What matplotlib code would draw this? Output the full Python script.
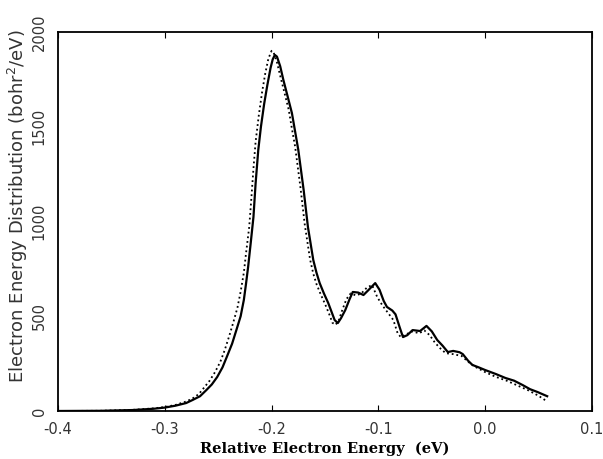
import numpy as np
import matplotlib
matplotlib.use("Agg")
import matplotlib.pyplot as plt

# solid curve
solid_e = [-0.40, -0.36, -0.33, -0.31, -0.30, -0.29, -0.28, -0.274, -0.267,
           -0.261, -0.256, -0.251, -0.246, -0.242, -0.237, -0.233, -0.229,
           -0.226, -0.224, -0.222, -0.2195, -0.217, -0.215, -0.2125, -0.210,
           -0.207, -0.204, -0.201, -0.199, -0.197, -0.195, -0.192, -0.189,
           -0.185, -0.181, -0.178, -0.175, -0.170, -0.166, -0.161, -0.158,
           -0.155, -0.151, -0.147, -0.144, -0.141, -0.138, -0.135, -0.131,
           -0.127, -0.124, -0.119, -0.114, -0.109, -0.103, -0.099, -0.095,
           -0.092, -0.087, -0.084, -0.080, -0.077, -0.073, -0.068, -0.061,
           -0.055, -0.050, -0.045, -0.040, -0.035, -0.030, -0.024, -0.021,
           -0.016, -0.012, -0.006, 0.000, 0.010, 0.019, 0.027, 0.035, 0.042,
           0.049, 0.058]
solid_d = [0, 1, 5, 12, 18, 28, 42, 58, 78,
           111, 140, 179, 230, 285, 355, 427, 500,
           586, 670, 760, 890, 1024, 1200, 1377, 1500,
           1620, 1720, 1810, 1855, 1879, 1870, 1820, 1747,
           1660, 1572, 1475, 1377, 1166, 971, 797, 730,
           675, 620, 570, 525, 480, 464, 490, 533,
           590, 628, 625, 612, 640, 675, 640, 580,
           549, 530, 510, 440, 390, 400, 427, 422,
           449, 420, 375, 345, 311, 317, 310, 300,
           265, 243, 230, 216, 195, 174, 160, 137, 115,
           100, 78]

# dotted curve
dot_e = [-0.40, -0.36, -0.33, -0.31, -0.30, -0.29, -0.28, -0.274, -0.268,
         -0.263, -0.258, -0.253, -0.248, -0.244, -0.240, -0.236, -0.232,
         -0.229, -0.226, -0.224, -0.221, -0.219, -0.217, -0.215, -0.212,
         -0.209, -0.206, -0.203, -0.200, -0.198, -0.195, -0.192, -0.188,
         -0.184, -0.181, -0.178, -0.173, -0.169, -0.164, -0.161, -0.158,
         -0.154, -0.150, -0.146, -0.143, -0.140, -0.137, -0.134, -0.130,
         -0.126, -0.121, -0.116, -0.111, -0.106, -0.101, -0.096, -0.090,
         -0.086, -0.082, -0.079, -0.074, -0.068, -0.062, -0.057, -0.052,
         -0.047, -0.042, -0.037, -0.030, -0.022, -0.016, -0.010, 0.000,
         0.010, 0.020, 0.030, 0.040, 0.050, 0.058]
dot_d = [0, 1, 6, 14, 21, 32, 50, 66, 90,
         125, 160, 205, 260, 320, 390, 465, 545,
         630, 730, 830, 970, 1120, 1280, 1420, 1560,
         1680, 1780, 1860, 1901, 1890, 1840, 1770, 1680,
         1590, 1490, 1395, 1180, 985, 800, 725, 670,
         615, 565, 510, 465, 455, 480, 530, 590,
         620, 610, 620, 650, 665, 600, 555, 510,
         480, 410, 390, 405, 420, 410, 425, 400,
         360, 330, 305, 300, 290, 260, 235, 205,
         180, 160, 135, 110, 80, 50]

xticks = [-0.4, -0.3, -0.2, -0.1, 0.0, 0.1]
xticklabels = ["-0.4", "-0.3", "-0.2", "-0.1", "0.0", "0.1"]
yticks = [0, 500, 1000, 1500, 2000]

fig = plt.figure(figsize=(6.03, 4.59), dpi=100)
ax = fig.add_axes([0.0962, 0.1046, 0.8856, 0.8257])

ax.plot(solid_e, solid_d, color="black", lw=1.6, solid_joinstyle="round")
ax.plot(dot_e, dot_d, color="black", lw=1.3, linestyle=(0, (1, 1.6)))

ax.set_xlim(-0.4, 0.1)
ax.set_ylim(0, 2000)
ax.set_xticks(xticks)
ax.set_xticklabels(xticklabels, fontsize=10.5, color="#333333")
ax.set_yticks(yticks)
ax.set_yticklabels([str(v) for v in yticks], fontsize=10.5, color="#333333",
                   rotation=90, va="center")
ax.tick_params(axis="x", direction="in", top=True, length=4, pad=8)
ax.tick_params(axis="y", direction="in", length=0, pad=8)
for s in ax.spines.values():
    s.set_linewidth(1.3)

ax.set_xlabel("Relative Electron Energy  (eV)", family="DejaVu Serif",
              fontweight="bold", fontsize=10.5, labelpad=3)
ax.set_ylabel("Electron Energy Distribution (bohr$^2$/eV)", fontsize=13,
              color="#333333")
ax.yaxis.set_label_coords(-0.053, 0.54)

fig.savefig("out.png", dpi=100)
